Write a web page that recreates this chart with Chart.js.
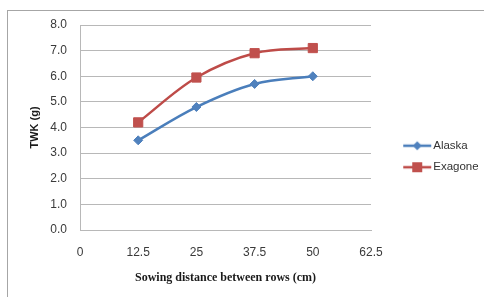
<!DOCTYPE html>
<html>
<head>
<meta charset="utf-8">
<script src="https://cdn.jsdelivr.net/npm/chart.js@4/dist/chart.umd.min.js"></script>
<style>
html,body{margin:0;padding:0;background:#fff;}
#wrap{width:484px;height:297px;position:relative;}
</style>
</head>
<body>
<div id="wrap"><canvas id="c" width="484" height="297"></canvas></div>
<script>
const distances = [12.5, 25, 37.5, 50];
const alaska = [3.5, 4.8, 5.7, 6.0];
const exagone = [4.2, 5.95, 6.9, 7.1];
const seriesNames = ['Alaska', 'Exagone'];
const xTickLabels = ['0', '12.5', '25', '37.5', '50', '62.5'];
const yTickLabels = ['0.0', '1.0', '2.0', '3.0', '4.0', '5.0', '6.0', '7.0', '8.0'];
const xTitle = 'Sowing distance between rows (cm)';
const yTitle = 'TWK (g)';

const blueLine = '#4a7ebb', blueMark = '#4f81bd';
const redLine = '#be4b48', redMark = '#c0504d';

function legendIcon(lineColor, markColor, shape) {
  const cv = document.createElement('canvas');
  cv.width = 56; cv.height = 14;
  const g = cv.getContext('2d');
  g.strokeStyle = lineColor; g.lineWidth = 2.5;
  g.beginPath(); g.moveTo(27, 7); g.lineTo(55, 7); g.stroke();
  g.fillStyle = markColor;
  const cx = 41, cy = 7;
  if (shape === 'diamond') {
    g.beginPath(); g.moveTo(cx, cy - 4.5); g.lineTo(cx + 4.5, cy); g.lineTo(cx, cy + 4.5); g.lineTo(cx - 4.5, cy); g.closePath(); g.fill();
  } else {
    g.fillRect(cx - 5, cy - 5, 10, 10);
  }
  return cv;
}
const icons = [legendIcon(blueLine, blueMark, 'diamond'), legendIcon(redLine, redMark, 'square')];

const framePlugin = {
  id: 'frame',
  beforeLayout(chart) {
    const lg = chart.legend;
    if (lg && !lg._fixed) {
      const orig = lg.fit.bind(lg);
      lg.fit = function () { orig(); this.width = 107; };
      lg._fixed = true;
    }
  },
  beforeDraw(chart) {
    const ctx = chart.ctx;
    ctx.save();
    ctx.fillStyle = '#ffffff';
    ctx.fillRect(0, 0, chart.width, chart.height);
    ctx.strokeStyle = '#a6a6a6';
    ctx.lineWidth = 1;
    ctx.strokeRect(7.5, 10.5, 600, 400);
    ctx.restore();
  }
};

new Chart(document.getElementById('c'), {
  type: 'line',
  data: {
    datasets: [
      {
        label: seriesNames[0],
        data: distances.map((d, i) => ({x: d, y: alaska[i]})),
        borderColor: blueLine, backgroundColor: blueMark,
        pointBackgroundColor: blueMark, pointBorderColor: blueMark,
        borderWidth: 2.5, tension: 0.35,
        pointStyle: 'rectRot', pointRadius: 4.5, pointBorderWidth: 1
      },
      {
        label: seriesNames[1],
        data: distances.map((d, i) => ({x: d, y: exagone[i]})),
        borderColor: redLine, backgroundColor: redMark,
        pointBackgroundColor: redMark, pointBorderColor: redMark,
        borderWidth: 2.5, tension: 0.35,
        pointStyle: 'rect', pointRadius: 6.5, pointBorderWidth: 1
      }
    ]
  },
  options: {
    responsive: false,
    animation: false,
    layout: { padding: { left: 20, top: 25, right: 6, bottom: 9 } },
    plugins: {
      tooltip: { enabled: false },
      legend: {
        position: 'right',
        labels: {
          usePointStyle: true,
          pointStyleWidth: 46.5,
          padding: 10,
          color: '#333333',
          font: { family: 'Liberation Sans', size: 11.5 },
          generateLabels(chart) {
            return chart.data.datasets.map((ds, i) => ({
              text: ds.label, datasetIndex: i, pointStyle: icons[i],
              fillStyle: ds.backgroundColor, strokeStyle: ds.borderColor,
              lineWidth: 0, hidden: false, fontColor: '#333333'
            }));
          }
        }
      }
    },
    scales: {
      x: {
        type: 'linear', min: 0, max: 62.5,
        afterBuildTicks(scale) {
          scale.ticks = xTickLabels.map(t => ({value: parseFloat(t)}));
        },
        afterFit(scale) { scale.height = 58; },
        ticks: {
          padding: 15, color: '#3a3a3a', maxRotation: 0,
          font: { family: 'Liberation Sans', size: 12 },
          callback: (v, i) => xTickLabels[i]
        },
        grid: { display: false, drawTicks: false },
        border: { display: true, color: '#b8b8b8', width: 1 },
        title: {
          display: true, text: xTitle, color: '#1a1a1a',
          font: { family: 'Liberation Serif', size: 12, weight: 'bold' },
          padding: { top: 12, bottom: 3 }
        }
      },
      y: {
        min: 0, max: 8,
        afterBuildTicks(scale) {
          scale.ticks = yTickLabels.map(t => ({value: parseFloat(t)}));
        },
        afterFit(scale) { scale.width = 60; },
        ticks: {
          padding: 13, color: '#3a3a3a',
          font: { family: 'Liberation Sans', size: 12 },
          callback: (v, i) => yTickLabels[i]
        },
        grid: { color: '#b8b8b8', lineWidth: 1, drawTicks: false },
        border: { display: true, color: '#b8b8b8', width: 1 },
        title: {
          display: true, text: yTitle, color: '#1a1a1a',
          font: { family: 'Liberation Sans', size: 11, weight: 'bold' },
          padding: { top: 8, bottom: 8 }
        }
      }
    }
  },
  plugins: [framePlugin]
});
</script>
</body>
</html>
